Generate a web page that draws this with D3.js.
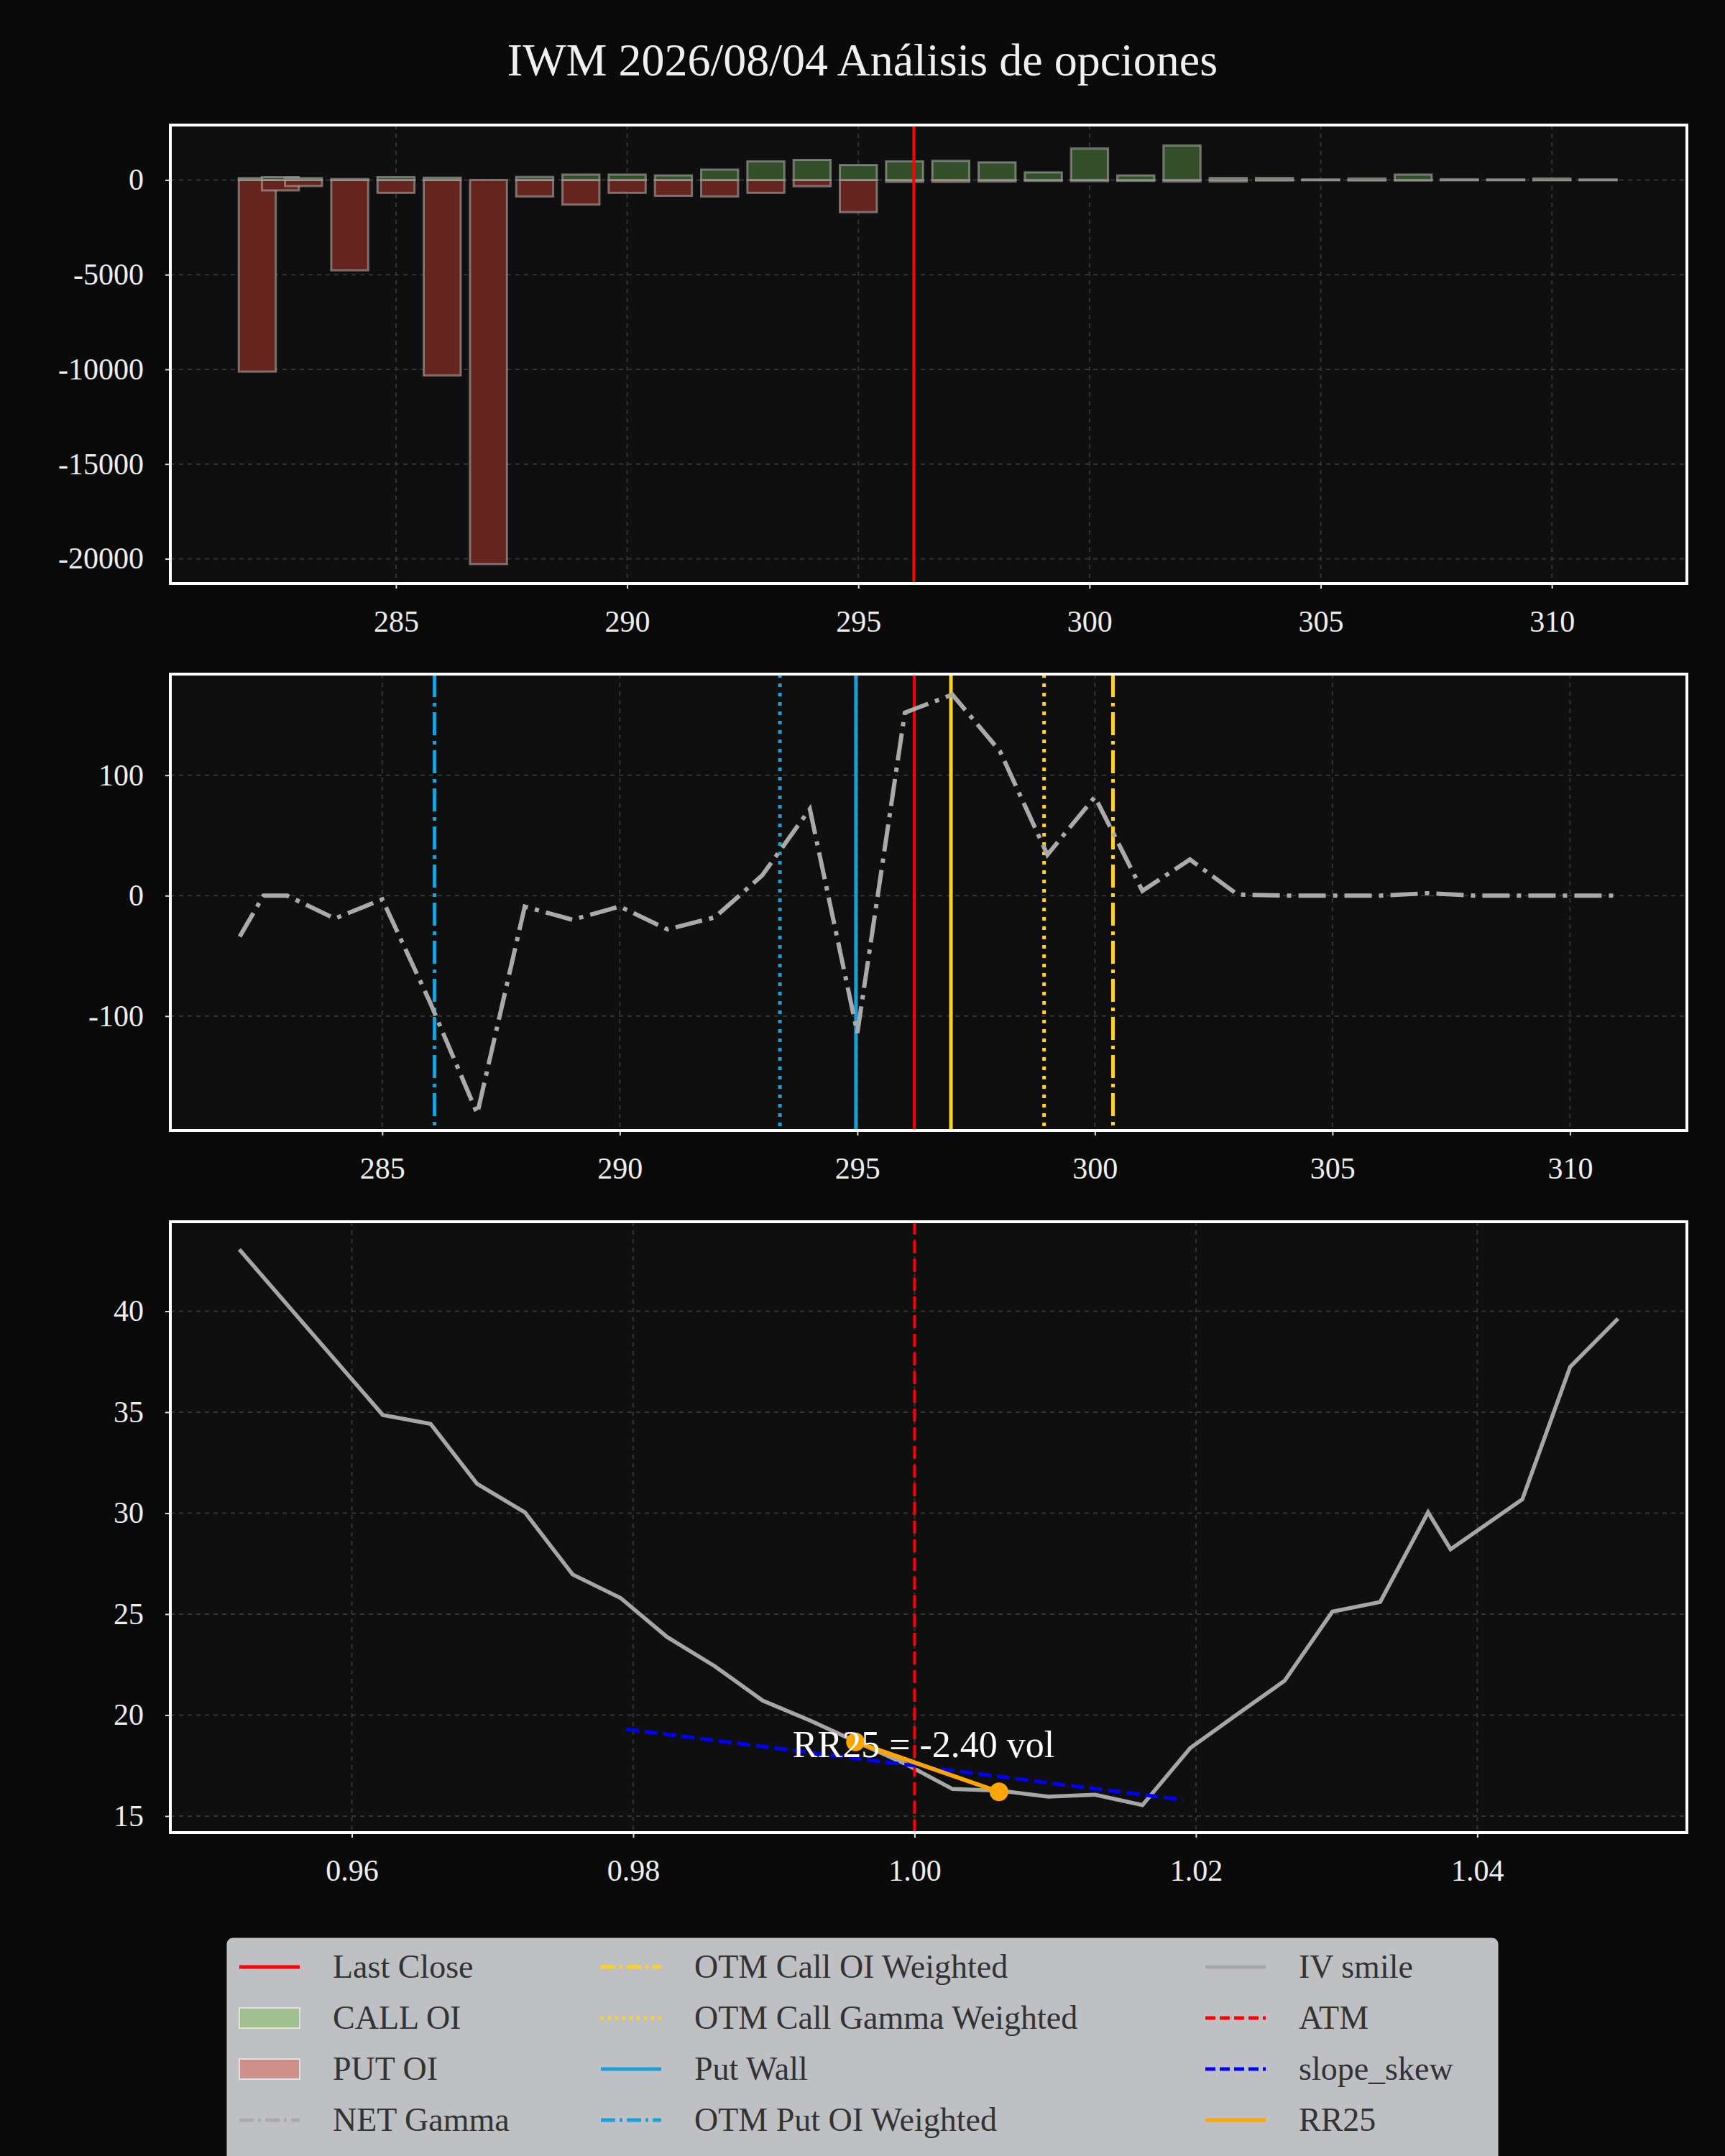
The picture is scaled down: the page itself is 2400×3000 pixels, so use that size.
<!DOCTYPE html>
<html><head><meta charset="utf-8">
<script src="https://cdn.jsdelivr.net/npm/d3@7"></script>
<style>body{margin:0;background:#0a0a0a}</style></head>
<body><svg id="c" width="2400" height="3000"></svg>
<script>
const title = "IWM 2026/08/04 Análisis de opciones";
const oiStrikes = [282,282.5,283,284,285,286,287,288,289,290,291,292,293,294,295,296,297,298,299,300,301,302,303,304,305,306,307,308,309,310,311];
const callOI = [100,150,100,50,150,120,0,160,285,285,240,550,980,1060,790,980,1010,930,400,1660,240,1820,110,110,30,80,285,40,30,80,30];
const putOI = [-10120,-550,-320,-4770,-680,-10320,-20280,-870,-1300,-680,-840,-870,-680,-330,-1700,-100,-100,-80,-50,-60,-50,-80,-80,-30,-20,-30,-30,-20,-20,-20,-20];
const netGamma = [-34,0,0,-19,-3,-88,-181,-9,-20,-9,-28,-18,17,72,-114,152,167,120,34,82,4,30,1,0,0,0,2,0,0,0,0];
const lastClose = 296.2;
const levels = [
  {name:"Call Wall", x:296.97, color:"#ffd21f", dash:null},
  {name:"OTM Call OI Weighted", x:300.38, color:"#ffd21f", dash:"32,8,5,8"},
  {name:"OTM Call Gamma Weighted", x:298.93, color:"#ffd21f", dash:"5,8"},
  {name:"Put Wall", x:294.97, color:"#1a9fd6", dash:null},
  {name:"OTM Put OI Weighted", x:286.1, color:"#1a9fd6", dash:"32,8,5,8"},
  {name:"OTM Put Gamma Weighted", x:293.37, color:"#1a9fd6", dash:"5,8"}
];
const moneyness = [0.9520,0.9622,0.9656,0.9689,0.9723,0.9757,0.9791,0.9824,0.9858,0.9892,0.9926,0.9959,0.9993,1.0027,1.0061,1.0095,1.0128,1.0162,1.0196,1.0230,1.0263,1.0297,1.0331,1.0365,1.0381,1.0432,1.0466,1.0500];
const ivSmile = [43.06,34.86,34.42,31.45,30.04,26.96,25.80,23.87,22.42,20.72,19.72,18.66,17.60,16.34,16.25,15.96,16.06,15.54,18.37,20.07,21.70,25.12,25.60,30.04,28.21,30.68,37.24,39.63];
const slopeX = [0.9795,1.0191], slopeY = [19.3,15.8];
const rrX = [0.9958,1.0060], rrY = [18.67,16.2];
const rrLabel = "RR25 = -2.40 vol";

const svg = d3.select("#c");
const FONT = "'Liberation Serif', 'DejaVu Serif', serif";
const hy = d => String(d).replace("\u2212","-");
svg.append("rect").attr("width",2400).attr("height",3000).attr("fill","#0a0a0a");
svg.append("text").attr("x",1200).attr("y",105).attr("text-anchor","middle").attr("fill","#f0f0f0")
  .attr("font-family",FONT).attr("font-size",64).text(title);

const L=237,R=2347;
function panel(top,bottom,xdom,ydom,xticks,yticks,xfmt,yfmt){
  const x=d3.scaleLinear().domain(xdom).range([L,R]);
  const y=d3.scaleLinear().domain(ydom).range([bottom,top]);
  const g=svg.append("g");
  g.append("rect").attr("x",L).attr("y",top).attr("width",R-L).attr("height",bottom-top).attr("fill","#0f0f0f");
  g.selectAll(".gx").data(xticks).join("line").attr("x1",d=>x(d)).attr("x2",d=>x(d)).attr("y1",top).attr("y2",bottom)
    .attr("stroke","#333").attr("stroke-width",2).attr("stroke-dasharray","6,6");
  g.selectAll(".gy").data(yticks).join("line").attr("y1",d=>y(d)).attr("y2",d=>y(d)).attr("x1",L).attr("x2",R)
    .attr("stroke","#333").attr("stroke-width",2).attr("stroke-dasharray","6,6");
  const ax=g.append("g").attr("transform",`translate(0,${bottom})`).call(d3.axisBottom(x).tickValues(xticks).tickFormat(xfmt).tickSize(7).tickPadding(30));
  const ay=g.append("g").attr("transform",`translate(${L},0)`).call(d3.axisLeft(y).tickValues(yticks).tickFormat(yfmt).tickSize(7).tickPadding(30));
  [ax,ay].forEach(a=>{a.select(".domain").remove();a.selectAll("line").attr("stroke","#ddd").attr("stroke-width",2);
    a.selectAll("text").attr("fill","#eee").attr("font-family",FONT).attr("font-size",42);});
  return {x,y,g,top,bottom,border:()=>g.append("rect").attr("x",L).attr("y",top).attr("width",R-L).attr("height",bottom-top)
    .attr("fill","none").attr("stroke","#fff").attr("stroke-width",4)};
}
const intFmt = d => hy(d3.format("d")(d));
// Panel 1
const p1=panel(174,812,[280.12,312.92],[-21310,2900],[285,290,295,300,305,310],[0,-5000,-10000,-15000,-20000],intFmt,intFmt);
const bw=p1.x(0.8)-p1.x(0);
p1.g.selectAll(".put").data(oiStrikes).join("rect").attr("x",(d)=>p1.x(d)-bw/2).attr("width",bw)
  .attr("y",(d,i)=>p1.y(0)).attr("height",(d,i)=>p1.y(putOI[i])-p1.y(0))
  .attr("fill","#65241d").attr("stroke","#aaa").attr("stroke-opacity",0.6).attr("stroke-width",3);
p1.g.selectAll(".call").data(oiStrikes).join("rect").attr("x",(d)=>p1.x(d)-bw/2).attr("width",bw)
  .attr("y",(d,i)=>p1.y(callOI[i])).attr("height",(d,i)=>p1.y(0)-p1.y(callOI[i]))
  .attr("fill","#34502a").attr("stroke","#aaa").attr("stroke-opacity",0.6).attr("stroke-width",3);
p1.g.append("line").attr("x1",p1.x(lastClose)).attr("x2",p1.x(lastClose)).attr("y1",p1.top).attr("y2",p1.bottom).attr("stroke","#ff0000").attr("stroke-width",4);
p1.border();
// Panel 2
const p2=panel(938,1573,[280.54,312.46],[-195,184],[285,290,295,300,305,310],[100,0,-100],intFmt,intFmt);
levels.forEach(l=>{p2.g.append("line").attr("x1",p2.x(l.x)).attr("x2",p2.x(l.x)).attr("y1",p2.top).attr("y2",p2.bottom)
  .attr("stroke",l.color).attr("stroke-width",5).attr("stroke-dasharray",l.dash);});
p2.g.append("line").attr("x1",p2.x(lastClose)).attr("x2",p2.x(lastClose)).attr("y1",p2.top).attr("y2",p2.bottom).attr("stroke","#ff0000").attr("stroke-width",4);
p2.g.append("path").datum(oiStrikes).attr("d",d3.line().x(d=>p2.x(d)).y((d,i)=>p2.y(netGamma[i])))
  .attr("fill","none").attr("stroke","#aaa").attr("stroke-width",6).attr("stroke-dasharray","38,10,6,10");
p2.border();
// Panel 3
const p3=panel(1700,2550,[0.9471,1.0549],[14.18,44.43],[0.96,0.98,1.00,1.02,1.04],[15,20,25,30,35,40],d3.format(".2f"),intFmt);
p3.g.append("path").datum(moneyness).attr("d",d3.line().x(d=>p3.x(d)).y((d,i)=>p3.y(ivSmile[i])))
  .attr("fill","none").attr("stroke","#a6a6a6").attr("stroke-width",5.5);
p3.g.append("line").attr("x1",p3.x(1)).attr("x2",p3.x(1)).attr("y1",p3.top).attr("y2",p3.bottom).attr("stroke","#ff0000").attr("stroke-width",4).attr("stroke-dasharray","18,8");
p3.g.append("path").datum(slopeX).attr("d",d3.line().x(d=>p3.x(d)).y((d,i)=>p3.y(slopeY[i])))
  .attr("fill","none").attr("stroke","#0000ff").attr("stroke-width",5).attr("stroke-dasharray","18,8");
p3.g.append("path").datum(rrX).attr("d",d3.line().x(d=>p3.x(d)).y((d,i)=>p3.y(rrY[i])))
  .attr("fill","none").attr("stroke","#ffa500").attr("stroke-width",6);
p3.g.selectAll(".rr").data(rrX).join("circle").attr("cx",d=>p3.x(d)).attr("cy",(d,i)=>p3.y(rrY[i])).attr("r",13).attr("fill","#ffa500");
p3.g.append("text").attr("x",p3.x((rrX[0]+rrX[1])/2)-5).attr("y",p3.y(18.5)+16).attr("text-anchor","middle")
  .attr("fill","#fff").attr("font-family",FONT).attr("font-size",52).text(rrLabel);
p3.border();
// Legend (visible rows only; the frame runs off the bottom edge as in the reference)
const leg=svg.append("g");
leg.append("rect").attr("x",316).attr("y",2697).attr("width",1768).attr("height",380).attr("rx",8).attr("fill","#bfc0c4").attr("stroke","#ccc");
const items=[
 [{n:"Last Close",t:"line",c:"#ff0000"},{n:"CALL OI",t:"patch",c:"#a0c090"},{n:"PUT OI",t:"patch",c:"#d0908a"},{n:"NET Gamma",t:"line",c:"#aaa",d:"20,6,4,6"}],
 [{n:"OTM Call OI Weighted",t:"line",c:"#ffd21f",d:"20,6,4,6"},{n:"OTM Call Gamma Weighted",t:"line",c:"#ffd21f",d:"4,6"},{n:"Put Wall",t:"line",c:"#1a9fd6"},{n:"OTM Put OI Weighted",t:"line",c:"#1a9fd6",d:"20,6,4,6"}],
 [{n:"IV smile",t:"line",c:"#a6a6a6"},{n:"ATM",t:"line",c:"#ff0000",d:"14,6"},{n:"slope_skew",t:"line",c:"#0000ff",d:"14,6"},{n:"RR25",t:"line",c:"#ffa500"}]
];
const colX=[333,836,1677];
items.forEach((col,ci)=>col.forEach((it,ri)=>{
  const yy=2737+ri*71, x0=colX[ci];
  if(it.t==="patch") leg.append("rect").attr("x",x0).attr("y",yy-14).attr("width",84).attr("height",28).attr("fill",it.c).attr("stroke","#e0e0e0").attr("stroke-width",2);
  else leg.append("line").attr("x1",x0).attr("x2",x0+84).attr("y1",yy).attr("y2",yy).attr("stroke",it.c).attr("stroke-width",5).attr("stroke-dasharray",it.d||null);
  leg.append("text").attr("x",x0+130).attr("y",yy+15).attr("fill","#333").attr("font-family",FONT).attr("font-size",46).text(it.n);
}));
</script></body></html>
